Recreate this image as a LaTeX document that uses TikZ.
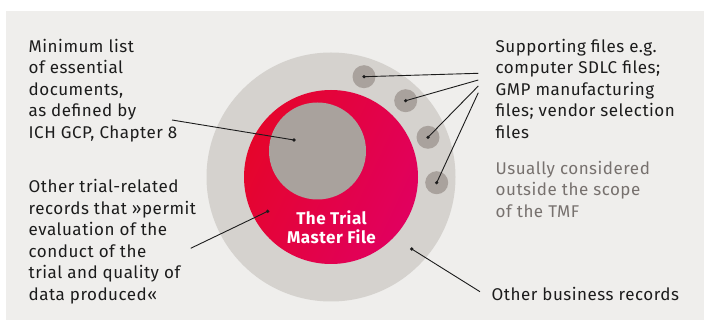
\documentclass[tikz,border=0pt]{standalone}
\usepackage{fontspec}
\setmainfont{Fira Sans}[LetterSpace=3]
\definecolor{bggray}{HTML}{EFEEEC}
\definecolor{ringgray}{HTML}{D5D2CE}
\definecolor{coregray}{HTML}{A9A29D}
\definecolor{tmfred}{HTML}{E5052B}
\definecolor{tmfpink}{HTML}{E1005F}
\definecolor{notegray}{HTML}{77716E}
\definecolor{ink}{HTML}{1C1C1C}
\begin{document}
\begin{tikzpicture}[x=1pt,y=-1pt,
  disc/.style={circle, inner sep=0pt, outer sep=0pt, draw=none},
  label text/.style={anchor=base west, inner sep=0pt, align=left, text=ink,
    font=\fontsize{17}{21.6}\selectfont},
  note text/.style={label text, text=notegray},
  leader/.style={draw=ink, line width=0.9pt},
  pin dot/.style={fill=ink},
]
\useasboundingbox (0,0) rectangle (704,320);
\fill[bggray] (6,11) rectangle (704,320);

% concentric record sets
\node[disc, fill=ringgray, minimum size=249pt] (business) at (331,177) {};
\node[disc, minimum size=174pt, left color=tmfred, right color=tmfpink,
  shading angle=65] (tmf) at (331,177) {};
\node[disc, fill=coregray, minimum size=97pt] (core) at (317.5,151) {};

% supporting files outside the TMF
\foreach \n/\p in {1/{(364,76.7)}, 2/{(405.7,100.7)}, 3/{(428,137.3)}, 4/{(436.7,182.7)}}
  \node[disc, fill=coregray, minimum size=23pt] (sup\n) at \p {};

% multi-line nodes sit on the baseline of their last line
\node[font=\bfseries\fontsize{17}{18.7}\selectfont, text=white, align=center,
  inner sep=0pt, anchor=base] (tmflabel) at (331.5,243.3) {The Trial\\Master File};

\node[label text] (minlist) at (28.5,138.5)
  {Minimum list\\of essential\\documents,\\as defined by\\ICH GCP, Chapter 8};
\node[label text] (trialrec) at (28.5,300.5)
  {Other trial-related\\records that »permit\\evaluation of the\\conduct of the\\trial and quality of\\data produced«};
\node[label text] (supfiles) at (495.5,138.5)
  {Supporting files e.g.\\computer SDLC files;\\GMP manufacturing\\files; vendor selection\\files};
\node[note text] (scope) at (495.5,217.5)
  {Usually considered\\outside the scope\\of the TMF};
\node[label text] (bizrec) at (491.5,300.5) {Other business records};

% leader line ends
\coordinate (coredot) at (294,140);
\coordinate (tmfdot) at (267.7,211.3);
\coordinate (bizdot) at (411.7,249);
\coordinate (minend) at (172,120);
\coordinate (trialend) at (190.7,248.3);
\coordinate (bizend) at (480,291.7);
\coordinate (supend1) at (478.3,73.3);
\coordinate (supend2) at (478.3,80);
\coordinate (supend3) at (478.3,86);
\coordinate (supend4) at (478.3,92.7);

\draw[leader] (minend) -- (coredot);
\draw[leader] (trialend) -- (tmfdot);
\draw[leader] (bizend) -- (bizdot);
\foreach \n in {1,...,4} {
  \draw[leader] (supend\n) -- (sup\n.center);
  \fill[pin dot] (sup\n.center) circle (1.8);
}
\foreach \d in {coredot, tmfdot, bizdot}
  \fill[pin dot] (\d) circle (1.8);
\end{tikzpicture}
\end{document}
